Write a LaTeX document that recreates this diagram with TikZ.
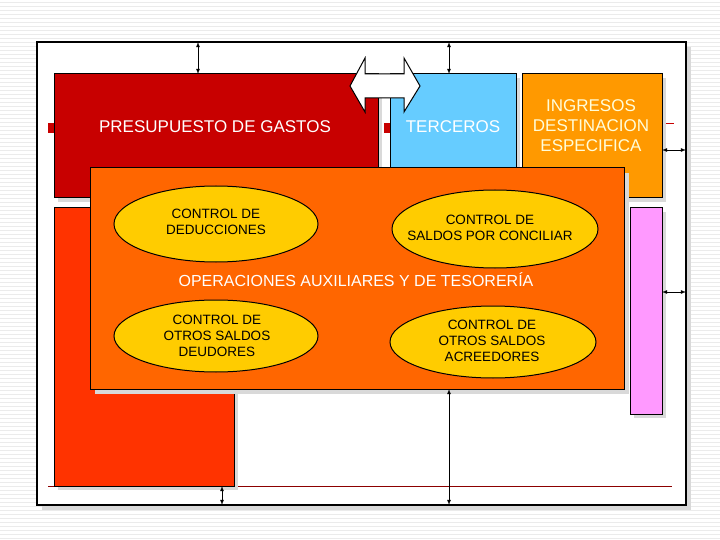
\documentclass[tikz,border=0pt]{standalone}
\usepackage{fontspec}
\setmainfont{Liberation Sans}
\definecolor{gastos}{HTML}{C80000}
\definecolor{terceros}{HTML}{66CCFF}
\definecolor{ingresos}{HTML}{FF9900}
\definecolor{rojizo}{HTML}{FF3300}
\definecolor{rosa}{HTML}{FF99FF}
\definecolor{operac}{HTML}{FF6600}
\definecolor{elipse}{HTML}{FFCC00}
\tikzset{
  caja/.style={draw=black,line width=1pt},
  sombra/.style={fill=black!15},
  elip/.style={draw=black,line width=1pt,fill=elipse},
  etq/.style={font=\fontsize{17}{20}\selectfont,text=white,align=center},
  etqel/.style={font=\fontsize{13.5}{16}\selectfont,align=center},
  flecha/.style={<->,>=latex,line width=0.8pt}
}
\begin{document}
\begin{tikzpicture}[x=1pt,y=-1pt]
\useasboundingbox (0,0) rectangle (720,540);
\fill[white] (0,0) rectangle (720,540);
% fondo rayado
\foreach \y in {2,6,...,538}
  \draw[black!8,line width=0.4pt] (0,\y) -- (720,\y);

% marco
\fill[sombra] (42,47) rectangle (691,510);
\fill[white] (37,42) rectangle (686,505);
\draw[line width=1.5pt] (37,42) rectangle (686,505);
\draw[gastos!70!black,line width=0.4pt] (48,486) -- (672,486);
\draw[gastos,line width=0.4pt] (666,123) -- (674,123);

% cajas
\fill[sombra] (58,78) rectangle (382,202);
\fill[sombra] (394,78) rectangle (520,202);
\fill[sombra] (526,78) rectangle (666,202);
\fill[sombra] (58,212) rectangle (238,490);
\fill[sombra] (634,212) rectangle (666,418);
\draw[caja,fill=gastos] (54,74) rectangle (378,198);
\draw[caja,fill=terceros] (390,74) rectangle (516,198);
\draw[caja,fill=ingresos] (522,74) rectangle (662,198);
\draw[caja,fill=rojizo] (54,208) rectangle (234,486);
\draw[caja,fill=rosa] (630,208) rectangle (662,414);
\fill[gastos] (48,123) rectangle (54,133);
\fill[gastos] (384,123) rectangle (390,133);

\node[etq] (gastos) at (215,127) {PRESUPUESTO DE GASTOS};
\node[etq] (terceros) at (453,127) {TERCEROS};
\node[etq,text=yellow!15] (ingresos) at (591,126) {INGRESOS\\DESTINACION\\ESPECIFICA};

% operaciones auxiliares
\fill[sombra] (95,173) rectangle (629,394);
\draw[caja,fill=operac] (90,168) rectangle (624,389);
\node[etq,font=\fontsize{16}{19}\selectfont] (operac) at (356,280) {OPERACIONES AUXILIARES Y DE TESORERÍA};

\draw[elip] (216,224) ellipse [x radius=102,y radius=38];
\node[etqel] (deduc) at (216,222) {CONTROL DE\\DEDUCCIONES};
\draw[elip] (495,229) ellipse [x radius=103,y radius=39];
\node[etqel] (conciliar) at (490,228) {CONTROL DE\\SALDOS POR CONCILIAR};
\draw[elip] (216,336) ellipse [x radius=102,y radius=36];
\node[etqel] (deudores) at (217,336) {CONTROL DE\\OTROS SALDOS\\DEUDORES};
\draw[elip] (493,342) ellipse [x radius=103,y radius=36];
\node[etqel] (acreedores) at (492,341) {CONTROL DE\\OTROS SALDOS\\ACREEDORES};

% flecha doble blanca
\draw[line width=1pt,fill=white] (350,86) -- (365,58) -- (365,74) -- (404,74) -- (404,58)
  -- (420,86) -- (404,112) -- (404,98) -- (365,98) -- (365,112) -- cycle;

% conectores
\coordinate (t1) at (198,42);
\coordinate (b1) at (198,74);
\coordinate (t2) at (449,42);
\coordinate (b2) at (449,74);
\coordinate (t3) at (449,389);
\coordinate (b3) at (449,505);
\coordinate (t4) at (222,486);
\coordinate (b4) at (222,505);
\coordinate (r1) at (662,150);
\coordinate (r2) at (686,150);
\coordinate (r3) at (662,292);
\coordinate (r4) at (686,292);
\draw[flecha] (t1) -- (b1);
\draw[flecha] (t2) -- (b2);
\draw[flecha] (t3) -- (b3);
\draw[flecha] (t4) -- (b4);
\draw[flecha] (r1) -- (r2);
\draw[flecha] (r3) -- (r4);
\end{tikzpicture}
\end{document}
